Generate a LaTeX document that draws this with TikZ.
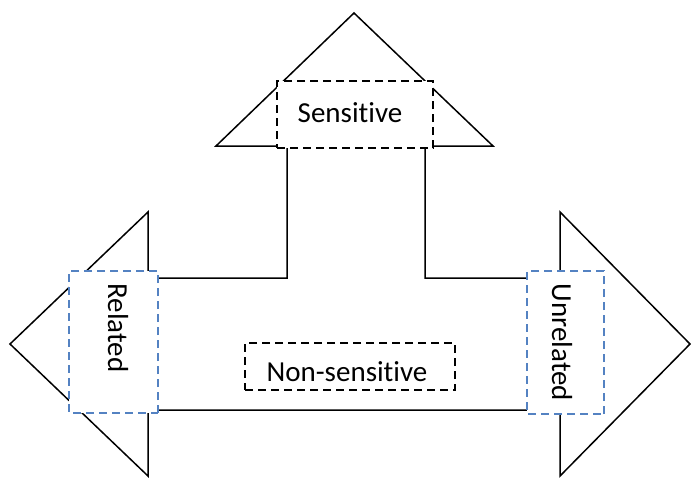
\documentclass[tikz,border=0pt]{standalone}
\usepackage{fontspec}
\setmainfont[Ligatures={NoCommon}]{Carlito}
\definecolor{boxblue}{RGB}{84,130,194}
\begin{document}
\begin{tikzpicture}[x=1pt,y=-1pt,
  outline/.style={draw=black,line width=1.5pt,line join=miter,fill=white},
  tag/.style={draw=black,line width=1.8pt,dash pattern=on 8pt off 5pt,fill=white,inner sep=0pt},
  bluetag/.style={tag,draw=boxblue},
  txt/.style={inner sep=0pt,font=\fontsize{29}{34}\selectfont}]
\useasboundingbox (0,0) rectangle (691,477);
\draw[outline] (354,13) -- (493,146) -- (425,146) -- (425,278) -- (560,278) -- (560,212)
  -- (690,344) -- (560,476) -- (560,410) -- (148,410) -- (148,476) -- (10,344)
  -- (148,212) -- (148,278) -- (287,278) -- (287,146) -- (216,146) -- cycle;
\node[tag,minimum width=156pt,minimum height=67pt] (sens) at (355,114.5) {};
\node[txt] (senstxt) at (350,113) {Sensitive};
\node[tag,minimum width=210pt,minimum height=47pt] (nonsens) at (350,366.5) {};
\node[txt] (nonsenstxt) at (347,372) {Non-sensitive};
\node[bluetag,rotate=-90,minimum width=142pt,minimum height=89pt] (rel) at (113.5,342) {};
\node[txt,rotate=-90] (reltxt) at (118,328) {Related};
\node[bluetag,rotate=-90,minimum width=143pt,minimum height=77pt] (unrel) at (565.5,342.5) {};
\node[txt,rotate=-90] (unreltxt) at (562,342.5) {Unrelated};
\end{tikzpicture}
\end{document}
